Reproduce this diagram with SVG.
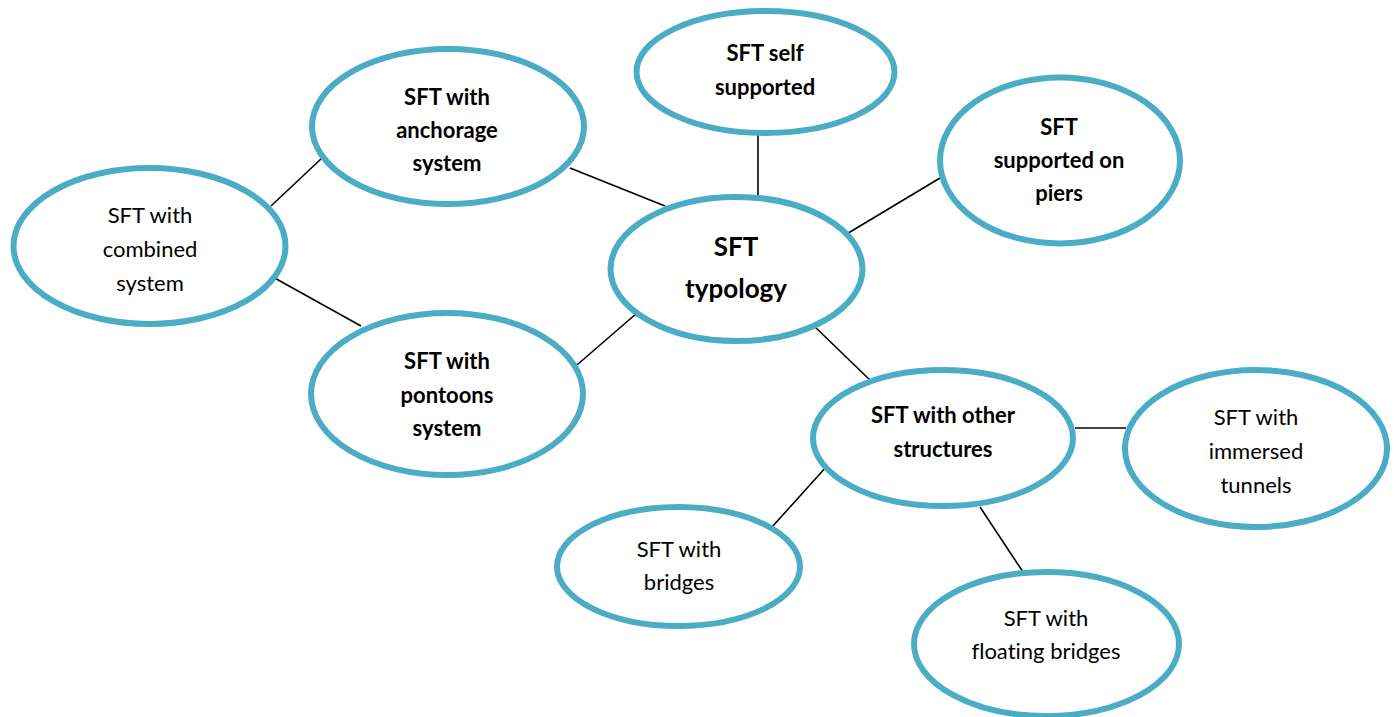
<svg xmlns="http://www.w3.org/2000/svg" width="1398" height="717" viewBox="0 0 1398 717">
<style>
.n{fill:#fff;stroke:#4BACC6;stroke-width:6}
.c line{stroke:#000;stroke-width:1.6}
text{font-family:Lato,"Open Sans","Liberation Sans",sans-serif;fill:#000;text-anchor:middle;font-variant-ligatures:none}
.b{font-weight:bold;font-size:22px}
.r{font-size:22px}
.t{font-weight:bold;font-size:26px}
</style>
<rect width="1398" height="717" fill="#fff"/>
<g id="connectors" class="c">
<line x1="271" y1="206" x2="322" y2="158"/>
<line x1="570" y1="168" x2="665" y2="206"/>
<line x1="271" y1="276" x2="361" y2="326"/>
<line x1="570" y1="371" x2="637" y2="313"/>
<line x1="758" y1="135" x2="758" y2="197"/>
<line x1="845" y1="235" x2="940" y2="178"/>
<line x1="813" y1="325" x2="873" y2="383"/>
<line x1="1075" y1="428" x2="1126" y2="428"/>
<line x1="827" y1="466" x2="772" y2="527"/>
<line x1="980" y1="507" x2="1023" y2="572"/>
</g>
<g id="typology">
<ellipse class="n" cx="736.5" cy="269" rx="126" ry="72"/>
<text class="t" x="736" y="256">SFT</text>
<text class="t" x="736" y="298">typology</text>
</g>
<g id="self-supported">
<ellipse class="n" cx="765.5" cy="72" rx="129" ry="61"/>
<text class="b" x="765" y="61">SFT self</text>
<text class="b" x="765" y="95">supported</text>
</g>
<g id="anchorage">
<ellipse class="n" cx="448" cy="126.5" rx="136" ry="77.5"/>
<text class="b" x="447" y="105">SFT with</text>
<text class="b" x="447" y="138">anchorage</text>
<text class="b" x="447" y="171">system</text>
</g>
<g id="piers">
<ellipse class="n" cx="1060" cy="160.5" rx="120" ry="83"/>
<text class="b" x="1059" y="135">SFT</text>
<text class="b" x="1059" y="168">supported on</text>
<text class="b" x="1059" y="201">piers</text>
</g>
<g id="combined">
<ellipse class="n" cx="149.5" cy="246" rx="136" ry="78"/>
<text class="r" x="150" y="223">SFT with</text>
<text class="r" x="150" y="257">combined</text>
<text class="r" x="150" y="291">system</text>
</g>
<g id="pontoons">
<ellipse class="n" cx="447" cy="394" rx="136" ry="81"/>
<text class="b" x="447" y="369">SFT with</text>
<text class="b" x="447" y="403">pontoons</text>
<text class="b" x="447" y="436">system</text>
</g>
<g id="other-structures">
<ellipse class="n" cx="943" cy="438" rx="130" ry="68"/>
<text class="b" x="943" y="423">SFT with other</text>
<text class="b" x="943" y="457">structures</text>
</g>
<g id="immersed-tunnels">
<ellipse class="n" cx="1256" cy="448.5" rx="131" ry="78.5"/>
<text class="r" x="1256" y="425">SFT with</text>
<text class="r" x="1256" y="459">immersed</text>
<text class="r" x="1256" y="493">tunnels</text>
</g>
<g id="bridges">
<ellipse class="n" cx="678.5" cy="566.5" rx="121.5" ry="59.5"/>
<text class="r" x="679" y="557">SFT with</text>
<text class="r" x="679" y="590">bridges</text>
</g>
<g id="floating-bridges">
<ellipse class="n" cx="1046.5" cy="644" rx="132.5" ry="72"/>
<text class="r" x="1046" y="626">SFT with</text>
<text class="r" x="1046" y="659">floating bridges</text>
</g>
</svg>
